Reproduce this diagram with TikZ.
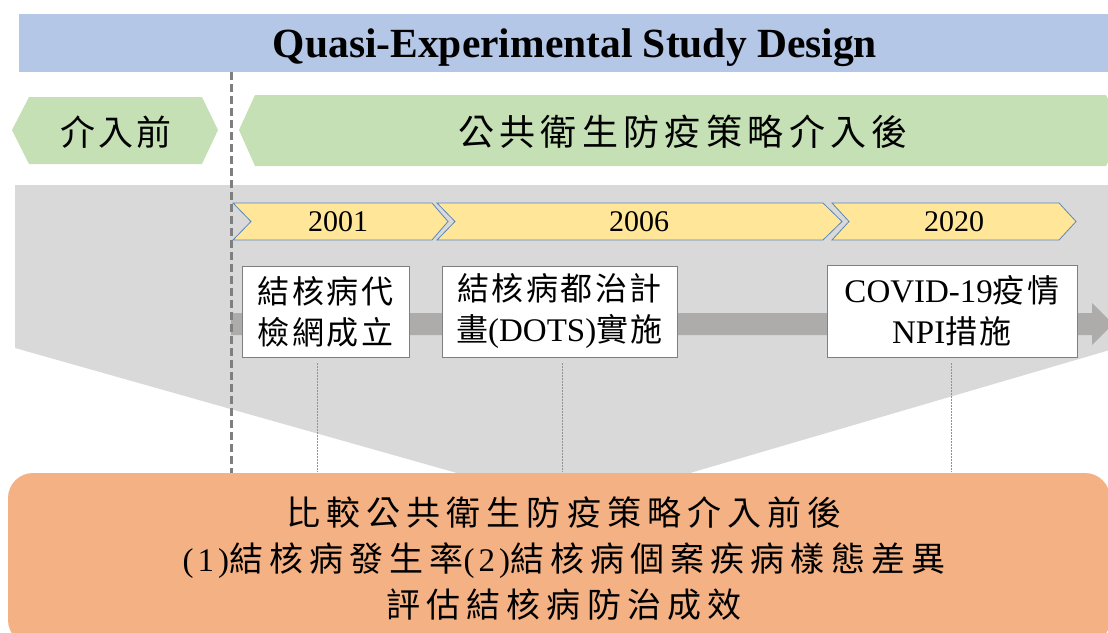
\documentclass[tikz,border=0pt]{standalone}
\usepackage{fontspec}
\setmainfont{Liberation Serif}
\newfontfamily\cjk{Noto Sans CJK TC}
\definecolor{titleblue}{HTML}{B4C7E7}
\definecolor{phasegreen}{HTML}{C5E0B4}
\definecolor{fieldgray}{HTML}{D9D9D9}
\definecolor{arrowgray}{HTML}{AEABAB}
\definecolor{yearyellow}{HTML}{FFE699}
\definecolor{yearedge}{HTML}{5B87B8}
\definecolor{resultorange}{HTML}{F4B183}
\definecolor{linegray}{HTML}{7F7F7F}
% CJK text with letter spacing (percent of the font size)
\newcommand\zhs[2]{{\cjk\addfontfeatures{LetterSpace=#1}#2}}
% Latin text at a given size and letter spacing
\newcommand\ens[3]{{\fontsize{#1}{#1}\selectfont\addfontfeatures{LetterSpace=#2}#3}}
\begin{document}
\begin{tikzpicture}[x=1pt,y=-1pt,
  every node/.style={inner sep=0pt, outer sep=0pt},
  yearband/.style={fill=yearyellow, draw=yearedge, line width=0.8pt, line join=miter},
  eventbox/.style={draw=linegray, line width=0.9pt, fill=white, align=center,
    font=\fontsize{32pt}{41pt}\selectfont},
  yearlabel/.style={font=\fontsize{30pt}{36pt}\selectfont},
  guide/.style={draw=linegray!85, line width=0.8pt, dash pattern=on 1.5pt off 1.5pt},
  divider/.style={draw=linegray, line width=3pt, dash pattern=on 8pt off 4pt}]
\useasboundingbox (0,0) rectangle (1108,632);

% title bar
\fill[titleblue] (19,14) rectangle (1112,72);
\node[font=\bfseries\fontsize{41.5pt}{48pt}\selectfont] (title) at (575,48) {Quasi-Experimental Study Design};

% phase bands
\fill[phasegreen] (12,130) -- (29,97) -- (202,97) -- (218,130) -- (202,164) -- (29,164) -- cycle;
\node[font=\fontsize{35pt}{40pt}\selectfont] (pre) at (116,132) {\zhs{9}{介入前}};
\fill[phasegreen] (239,130) -- (255,95) -- (1106,95) -- (1124,130) -- (1106,166) -- (255,166) -- cycle;
\node[font=\fontsize{36pt}{42pt}\selectfont] (post) at (683,132) {\zhs{15}{公共衛生防疫策略介入後}};

% grey field narrowing towards the result box
\fill[fieldgray] (15,185) -- (1120,185) -- (1120,347) -- (632,490) -- (517,490) -- (15,348) -- cycle;

% timeline arrow
\fill[arrowgray] (231,313) -- (1092,313) -- (1092,303) -- (1113,324) -- (1092,345) -- (1092,335) -- (231,335) -- cycle;

% year bands
\filldraw[yearband] (233,203) -- (432,203) -- (448,221.5) -- (432,240) -- (233,240) -- (251,221.5) -- cycle;
\filldraw[yearband] (437,203) -- (823,203) -- (842,221.5) -- (823,240) -- (437,240) -- (455,221.5) -- cycle;
\filldraw[yearband] (832,203) -- (1059,203) -- (1076,221.5) -- (1059,240) -- (832,240) -- (849,221.5) -- cycle;
\node[yearlabel] (y2001) at (338,222) {2001};
\node[yearlabel] (y2006) at (639,222) {2006};
\node[yearlabel] (y2020) at (954,222) {2020};

% events
\node[eventbox, minimum width=167pt, minimum height=91pt] (ev1) at (325.5,311.5)
  {\zhs{8}{結核病代}\\\zhs{8}{檢網成立}};
\node[eventbox, minimum width=235pt, minimum height=91pt] (ev2) at (559.5,311.5)
  {\zhs{8}{結核病都治計}\\\zhs{8}{畫}\ens{33pt}{0}{(DOTS)}\zhs{8}{實施}};
\node[eventbox, minimum width=250pt, minimum height=92pt] (ev3) at (952,311)
  {\ens{33pt}{0}{COVID-19}\zhs{8}{疫情}\\\ens{33pt}{0}{NPI}\zhs{8}{措施}};

% guides from the events down to the result box
\coordinate (g1a) at (317,363); \coordinate (g1b) at (317,472);
\coordinate (g2a) at (562,363); \coordinate (g2b) at (562,472);
\coordinate (g3a) at (951,363); \coordinate (g3b) at (951,472);
\draw[guide] (g1a) -- (g1b);
\draw[guide] (g2a) -- (g2b);
\draw[guide] (g3a) -- (g3b);

% intervention divider
\coordinate (dtop) at (231,72);
\coordinate (dbot) at (231,473);
\draw[divider] (dtop) -- (dbot);

% result box
\fill[resultorange, rounded corners=25pt] (8,473) rectangle (1110,645);
\node[align=center, font=\fontsize{34pt}{46pt}\selectfont] (result) at (564,559)
  {\zhs{18}{比較公共衛生防疫策略介入前後}\\
   \ens{33pt}{12}{(1)}\zhs{18}{結核病發生率}\ens{33pt}{12}{(2)}\zhs{18}{結核病個案疾病樣態差異}\\
   \zhs{18}{評估結核病防治成效}};
\end{tikzpicture}
\end{document}
